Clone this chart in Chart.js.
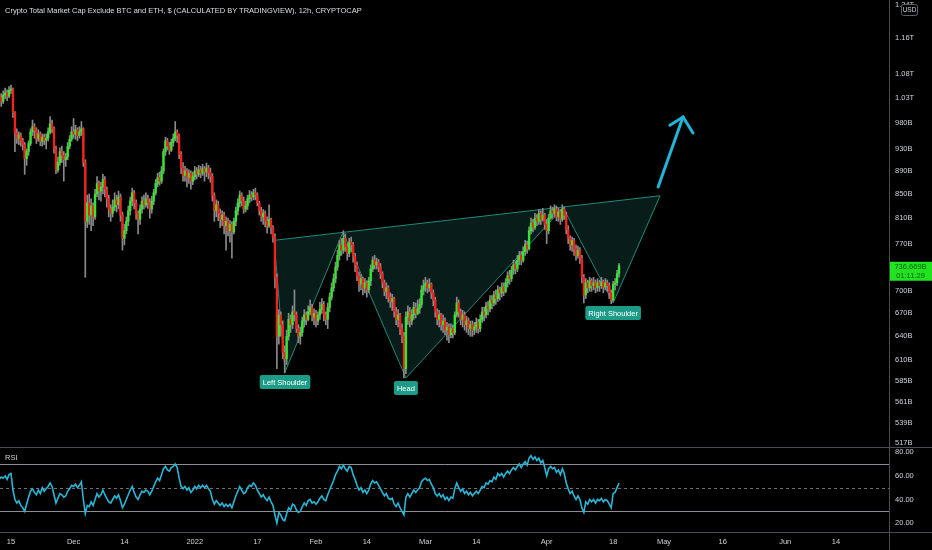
<!DOCTYPE html>
<html>
<head>
<meta charset="utf-8">
<script src="https://cdn.jsdelivr.net/npm/chart.js@4.4.1/dist/chart.umd.min.js"></script>
<style>
html,body{margin:0;padding:0;background:#000;width:932px;height:550px;overflow:hidden;}
#wrap{position:relative;width:932px;height:550px;background:#000;}
#mainBox{position:absolute;left:0;top:0;width:932px;height:447px;}
#rsiBox{position:absolute;left:0;top:447px;width:932px;height:103px;}
#title{position:absolute;left:5px;top:6px;height:10px;line-height:10px;font-family:"Liberation Sans",Arial,sans-serif;font-size:7.5px;color:#dcdfe6;white-space:nowrap;z-index:2;}
</style>
</head>
<body>
<div id="wrap">
  <div id="mainBox"><canvas id="main"></canvas></div>
  <div id="rsiBox"><canvas id="rsi"></canvas></div>
  <div id="title">Crypto Total Market Cap Exclude BTC and ETH, $ (CALCULATED BY TRADINGVIEW), 12h, CRYPTOCAP</div>
</div>
<script>
// ---------------- DATA ----------------
const candleStart = '2021-11-12T00:00';   // first 12h candle
const candleHours = 12;
const firstOpen = 1038;                   // open of the first candle (B USD)
// closes (billions USD), one per 12h candle
const closes = [
 1030,1022,1035,1040,1033,1045,1048,
 1000,960,
 950,956,945,938,912,925,
 940,962,972,965,948,958,944,952,946,950,962,978,968,
 930,892,
 905,925,918,910,915,935,948,962,958,966,955,962,968,
 905,805,835,
 815,830,812,850,868,855,862,875,858,842,825,
 818,828,840,832,845,815,778,790,
 805,822,838,852,835,818,808,825,838,832,842,836,825,838,
 852,868,878,872,890,
 925,945,935,928,942,950,962,955,
 920,895,882,
 890,878,886,872,880,890,884,892,886,894,888,895,887,880,
 848,822,
 832,818,808,815,798,805,790,800,788,
 805,822,835,848,838,825,830,842,848,845,852,848,
 835,822,812,818,805,798,808,795,
 780,720,640,
 668,655,620,612,640,
 662,655,672,668,650,640,645,660,
 668,662,672,678,665,670,660,668,675,682,668,662,
 678,692,705,718,735,752,768,760,778,
 765,755,772,768,750,738,
 722,710,718,705,712,702,715,
 732,745,738,742,735,725,
 712,700,705,692,686,690,672,662,668,650,640,
 600,665,672,
 660,668,678,670,676,682,
 702,708,712,705,710,698,
 688,672,662,668,655,660,648,652,642,650,645,
 668,684,672,
 662,668,655,660,650,655,648,652,658,650,
 662,672,668,680,676,688,684,
 695,690,702,698,706,700,712,722,718,730,
 738,732,745,752,745,758,768,762,790,802,795,810,805,818,
 808,815,800,790,810,822,818,825,812,820,808,825,815,
 792,778,768,775,762,752,760,748,
 720,695,
 712,705,715,708,712,705,712,708,714,706,712,708,
 698,688,
 710,712,725,736.669
];
const highs = [
 1042,1038,1044,1050,1046,1053,1056,
 1050,1002,
 968,962,960,950,942,930,
 945,968,985,978,970,966,962,958,958,958,970,992,985,
 972,935,
 915,932,935,925,922,942,955,972,988,975,970,972,982,
 970,910,848,
 850,842,835,858,880,872,870,884,880,862,848,
 832,840,852,848,855,850,820,800,
 812,830,845,860,856,840,822,832,845,848,852,848,842,846,
 858,875,886,888,898,
 930,952,950,942,948,958,982,966,
 958,925,905,
 898,894,892,890,888,898,896,900,898,902,898,904,900,895,
 885,852,
 840,838,825,822,820,812,810,806,804,
 810,828,842,855,852,845,838,848,856,854,858,860,
 852,838,828,824,822,812,832,810,
 798,785,725,
 675,672,660,628,648,
 670,668,680,702,672,655,652,665,
 675,672,680,688,682,676,674,672,685,690,686,672,
 684,698,712,725,742,760,775,778,790,
 785,770,778,780,772,755,
 742,728,724,720,718,715,720,
 738,750,752,748,746,740,
 728,716,712,708,698,696,692,678,675,670,656,
 645,672,680,
 678,675,685,684,688,690,
 708,716,720,716,718,712,
 702,692,676,674,670,668,664,658,656,656,655,
 672,692,688,
 676,674,672,666,664,660,660,658,664,662,
 668,678,678,685,686,694,694,
 700,702,708,706,712,712,718,728,730,736,
 745,744,752,758,758,765,775,774,796,810,808,818,816,824,
 822,826,818,808,816,830,828,832,830,826,824,832,828,
 820,798,782,780,778,768,766,764,
 752,724,
 718,716,720,718,720,716,718,716,720,716,718,716,
 712,702,
 714,718,730,740
];
const lows = [
 1015,1012,1018,1028,1024,1030,1038,
 990,925,
 940,938,935,928,884,900,
 918,936,955,950,940,944,936,935,938,930,945,958,960,
 922,885,
 888,900,905,872,898,910,930,944,950,948,945,950,955,
 898,720,795,
 800,790,798,808,845,840,838,850,845,828,812,
 805,812,822,820,825,805,760,768,
 785,798,815,830,825,808,785,800,818,825,828,826,810,818,
 832,848,862,865,868,
 885,918,928,920,925,935,945,942,
 912,885,872,
 872,862,868,858,866,874,876,880,878,882,872,880,876,870,
 838,805,
 812,806,795,798,785,760,782,772,748,
 785,798,815,828,830,818,820,824,835,838,840,840,
 830,815,805,800,796,786,795,785,
 772,705,600,
 630,640,612,595,605,
 635,645,650,660,645,632,630,640,
 652,655,660,668,660,655,652,655,662,670,660,655,
 650,672,688,700,712,730,745,752,755,
 758,745,750,758,742,728,
 715,700,702,695,698,692,698,
 708,728,732,732,728,718,
 705,694,690,685,678,674,665,655,652,642,632,
 589,594,655,
 652,655,662,664,668,670,
 678,695,700,698,700,690,
 680,665,655,652,648,645,642,635,632,638,638,
 642,665,665,
 655,652,648,645,642,640,640,642,645,644,
 646,658,660,664,668,672,676,
 680,682,686,688,692,694,698,706,710,714,
 724,725,728,738,738,742,752,755,760,785,788,792,798,800,
 800,805,792,770,785,808,810,812,806,805,800,805,808,
 785,770,760,758,752,745,748,740,
 712,684,
 690,698,700,700,702,698,700,700,704,698,702,700,
 690,683,
 686,702,708,720
];
// RSI(14) values, one per candle
const rsiValues = [
 57,59,58,60,57,61,62,
 48,40,
 37,39,35,33,30,36,
 42,47,49,46,44,48,45,50,47,49,51,54,51,
 44,37,
 41,45,44,42,43,47,49,52,51,53,50,52,55,
 40,28,35,
 34,38,35,40,45,42,44,48,44,41,38,
 37,40,43,41,44,39,33,36,
 40,44,48,51,46,42,40,44,47,46,48,47,44,47,
 51,55,58,56,61,
 66,68,65,64,67,68,70,67,
 58,51,49,
 51,48,50,46,48,51,49,52,50,52,50,52,49,47,
 40,36,
 39,37,35,37,34,36,34,36,33,
 38,43,47,51,48,45,46,50,52,51,54,52,
 48,45,42,44,41,39,42,38,
 35,27,20,
 29,27,23,22,28,
 33,31,36,35,31,29,30,34,
 37,35,39,40,37,38,36,38,41,43,40,39,
 44,48,52,56,61,64,68,66,69,
 66,64,68,67,61,57,
 52,48,50,46,48,45,48,
 53,56,54,55,52,49,
 46,43,45,41,40,41,36,34,37,33,30,
 27,42,45,
 42,45,48,46,48,50,
 55,57,58,56,57,53,
 50,45,43,45,42,44,40,42,39,42,41,
 49,54,50,
 47,49,45,47,44,46,43,45,47,45,
 48,51,50,54,53,56,55,
 59,57,62,60,62,59,62,64,62,65,
 67,65,68,70,67,70,72,69,75,77,74,76,73,75,
 71,73,67,60,66,68,66,67,63,65,61,66,62,
 54,49,45,47,43,40,43,40,
 33,29,
 38,36,40,38,40,37,40,39,41,38,40,39,
 36,33,
 45,46,50,54
];
const priceTicks = [517,539,561,585,610,640,670,700,770,810,850,890,930,980,1030,1080,1160,1240];
const rsiTicks = [20,40,60,80];
const rsiBands = [70,30];
const rsiMid = 50;
const xTickDates  = ['2021-11-15T00:00','2021-12-01T00:00','2021-12-14T00:00','2022-01-01T00:00','2022-01-17T00:00','2022-02-01T00:00','2022-02-14T00:00','2022-03-01T00:00','2022-03-14T00:00','2022-04-01T00:00','2022-04-18T00:00','2022-05-01T00:00','2022-05-16T00:00','2022-06-01T00:00','2022-06-14T00:00'];
const xTickLabels = ['15','Dec','14','2022','17','Feb','14','Mar','14','Apr','18','May','16','Jun','14'];
// head & shoulders drawing
const patternDates  = ['2022-01-21T07:00','2022-01-24T02:00','2022-02-07T22:00','2022-02-24T00:00','2022-04-05T05:00','2022-04-18T00:00','2022-04-30T00:00'];
const patternPrices = [775,596,788,589,827,684,847];
const patternLabels = ['','Left Shoulder','','Head','','Right Shoulder',''];
// projection arrow
const arrowDates  = ['2022-04-29T12:00','2022-05-05T21:00'];
const arrowPrices = [862,991];
const arrowHeadDates  = ['2022-05-02T12:00','2022-05-05T21:00','2022-05-08T10:00'];
const arrowHeadPrices = [975,991,960];
const lastPrice = 736.669;
const countdown = '01:11:29';
const viewStart = '2021-11-12T04:30';
const viewEnd   = '2022-06-27T13:10';

// ---------------- BUILD ----------------
if (closes.length !== highs.length || closes.length !== lows.length || closes.length !== rsiValues.length) {
  throw new Error('length mismatch ' + closes.length + ' ' + highs.length + ' ' + lows.length + ' ' + rsiValues.length);
}
const ORIGIN = Date.parse('2021-11-15T00:00Z');
function dayOf(s){ return (Date.parse(s + 'Z') - ORIGIN) / 86400000; }
const t0 = dayOf(candleStart);
const times = closes.map((_, i) => t0 + i * candleHours / 24);
const opens = closes.map((c, i) => i === 0 ? firstOpen : closes[i - 1]);
const xMin = dayOf(viewStart), xMax = dayOf(viewEnd);

const FONT = '"Liberation Sans", Arial, sans-serif';
Chart.defaults.font.family = FONT;
const AXIS_COLOR = '#ced1d8';
const GREEN = '#33e82e', RED = '#f2211d';
const FS = 7.5;

function fmtPrice(v){ return v >= 1000 ? (v / 1000).toFixed(2) + 'T' : Math.round(v) + 'B'; }

function rrect(ctx, x, y, w, h, r){
  ctx.beginPath();
  if (ctx.roundRect) ctx.roundRect(x, y, w, h, r); else ctx.rect(x, y, w, h);
}

const mainDecor = {
  id: 'mainDecor',
  afterDraw(chart){
    const {ctx, scales: {x, y}, chartArea: a} = chart;
    ctx.save();
    ctx.strokeStyle = '#4a4c52'; ctx.lineWidth = 1;
    ctx.beginPath(); ctx.moveTo(Math.round(a.right) + 0.5, 0); ctx.lineTo(Math.round(a.right) + 0.5, chart.height); ctx.stroke();
    ctx.font = FS + 'px ' + FONT;
    ctx.textAlign = 'center'; ctx.textBaseline = 'middle';
    patternLabels.forEach((lbl, k) => {
      if (!lbl) return;
      const px = x.getPixelForValue(dayOf(patternDates[k]));
      const py = y.getPixelForValue(patternPrices[k]);
      const w = ctx.measureText(lbl).width + 6, h = 14, top = py + 3;
      ctx.fillStyle = '#1c9b86';
      rrect(ctx, px - w / 2, top, w, h, 2); ctx.fill();
      ctx.fillStyle = '#ffffff';
      ctx.fillText(lbl, px, top + h / 2 + 0.5);
    });
    const lp = y.getPixelForValue(lastPrice);
    const cx = (a.right + chart.width) / 2;
    ctx.fillStyle = '#21e320';
    ctx.fillRect(a.right + 1, lp - 4, chart.width - a.right - 1, 19);
    ctx.fillStyle = '#0d5a0d';
    ctx.font = FS + 'px ' + FONT;
    ctx.fillText(lastPrice.toFixed(3) + 'B', cx, lp + 1.5);
    ctx.fillText(countdown, cx, lp + 10);
    ctx.fillStyle = '#000';
    rrect(ctx, 901.5, 4.5, 16, 11, 2); ctx.fill();
    ctx.strokeStyle = '#5d606b'; ctx.stroke();
    ctx.fillStyle = '#d1d4dc'; ctx.font = '6.5px ' + FONT;
    ctx.fillText('USD', 909.5, 10.5);
    ctx.restore();
  }
};

const rsiDecor = {
  id: 'rsiDecor',
  beforeDatasetsDraw(chart){
    const {ctx, scales: {y}, chartArea: a} = chart;
    ctx.save();
    ctx.lineWidth = 1;
    ctx.strokeStyle = '#8d8f94';
    rsiBands.forEach(v => {
      const py = Math.round(y.getPixelForValue(v)) + 0.5;
      ctx.beginPath(); ctx.moveTo(a.left, py); ctx.lineTo(a.right, py); ctx.stroke();
    });
    ctx.strokeStyle = '#6e7075';
    ctx.setLineDash([3, 3]);
    const pm = Math.round(y.getPixelForValue(rsiMid)) + 0.5;
    ctx.beginPath(); ctx.moveTo(a.left, pm); ctx.lineTo(a.right, pm); ctx.stroke();
    ctx.restore();
  },
  afterDraw(chart){
    const {ctx, chartArea: a} = chart;
    ctx.save();
    ctx.strokeStyle = '#4a4c52'; ctx.lineWidth = 1;
    ctx.beginPath();
    ctx.moveTo(0, 0.5); ctx.lineTo(chart.width, 0.5);
    ctx.moveTo(0, Math.round(a.bottom) + 0.5); ctx.lineTo(chart.width, Math.round(a.bottom) + 0.5);
    ctx.moveTo(Math.round(a.right) + 0.5, 0); ctx.lineTo(Math.round(a.right) + 0.5, chart.height);
    ctx.stroke();
    ctx.fillStyle = '#d1d4dc'; ctx.font = FS + 'px ' + FONT;
    ctx.textAlign = 'left'; ctx.textBaseline = 'middle';
    ctx.fillText('RSI', 5, 11);
    ctx.restore();
  }
};

const bodyData = times.map((t, i) => ({x: t, y: [opens[i], closes[i]]}));
const wickData = times.map((t, i) => ({x: t, y: [lows[i], highs[i]]}));
const bodyColors = closes.map((c, i) => c >= opens[i] ? GREEN : RED);
const patternData = patternDates.map((d, k) => ({x: dayOf(d), y: patternPrices[k]}));
patternData.push({x: dayOf(patternDates[0]), y: patternPrices[0]});
const arrowData = arrowDates.map((d, k) => ({x: dayOf(d), y: arrowPrices[k]}));
const arrowHeadData = arrowHeadDates.map((d, k) => ({x: dayOf(d), y: arrowHeadPrices[k]}));

new Chart(document.getElementById('main'), {
  type: 'bar',
  data: {
    datasets: [
      {type: 'line', data: arrowData, borderColor: '#20b5d9', borderWidth: 3, pointRadius: 0, fill: false, borderCapStyle: 'round', order: -2},
      {type: 'line', data: arrowHeadData, borderColor: '#20b5d9', borderWidth: 3, pointRadius: 0, fill: false, borderCapStyle: 'round', borderJoinStyle: 'miter', order: -1},
      {data: bodyData, backgroundColor: bodyColors, barThickness: 1.7, grouped: false, borderWidth: 0, order: 0},
      {data: wickData, backgroundColor: '#8a8a8a', barThickness: 1, grouped: false, borderWidth: 0, order: 1},
      {type: 'line', data: patternData, borderColor: '#1f8a7c', borderWidth: 1, backgroundColor: 'rgba(45,170,150,0.17)', fill: 'shape', pointRadius: 0, tension: 0, order: 3}
    ]
  },
  options: {
    responsive: true, maintainAspectRatio: false, animation: false, events: [],
    layout: {padding: 0},
    plugins: {legend: {display: false}, tooltip: {enabled: false}},
    scales: {
      x: {type: 'linear', display: false, min: xMin, max: xMax, offset: false},
      y: {
        type: 'logarithmic', position: 'right', min: 513.3, max: 1251.3,
        grid: {display: false, drawTicks: false}, border: {display: false},
        afterBuildTicks: s => { s.ticks = priceTicks.map(v => ({value: v})); },
        afterFit: s => { s.width = 43; s.paddingTop = 0; s.paddingBottom = 0; },
        ticks: {autoSkip: false, padding: 6, color: AXIS_COLOR, font: {size: FS}, callback: v => fmtPrice(v)}
      }
    }
  },
  plugins: [mainDecor]
});

new Chart(document.getElementById('rsi'), {
  type: 'line',
  data: {
    datasets: [{data: times.map((t, i) => ({x: t, y: rsiValues[i]})), borderColor: '#2ab6d6', borderWidth: 1.6, pointRadius: 0, tension: 0, fill: false}]
  },
  options: {
    responsive: true, maintainAspectRatio: false, animation: false, events: [],
    layout: {padding: 0},
    plugins: {legend: {display: false}, tooltip: {enabled: false}},
    scales: {
      x: {
        type: 'linear', min: xMin, max: xMax, offset: false,
        grid: {display: false, drawTicks: false}, border: {display: false},
        afterBuildTicks: s => { s.ticks = xTickDates.map(d => ({value: dayOf(d)})); },
        afterFit: s => { s.height = 18; s.paddingLeft = 0; s.paddingRight = 0; },
        ticks: {autoSkip: false, maxRotation: 0, padding: 5, color: AXIS_COLOR, font: {size: FS}, callback: (v, i) => xTickLabels[i]}
      },
      y: {
        type: 'linear', position: 'right', min: 12.5, max: 84.4,
        grid: {display: false, drawTicks: false}, border: {display: false},
        afterBuildTicks: s => { s.ticks = rsiTicks.map(v => ({value: v})); },
        afterFit: s => { s.width = 43; s.paddingTop = 0; s.paddingBottom = 0; },
        ticks: {autoSkip: false, padding: 6, color: AXIS_COLOR, font: {size: FS}, callback: v => v.toFixed(2)}
      }
    }
  },
  plugins: [rsiDecor]
});
</script>
</body>
</html>
